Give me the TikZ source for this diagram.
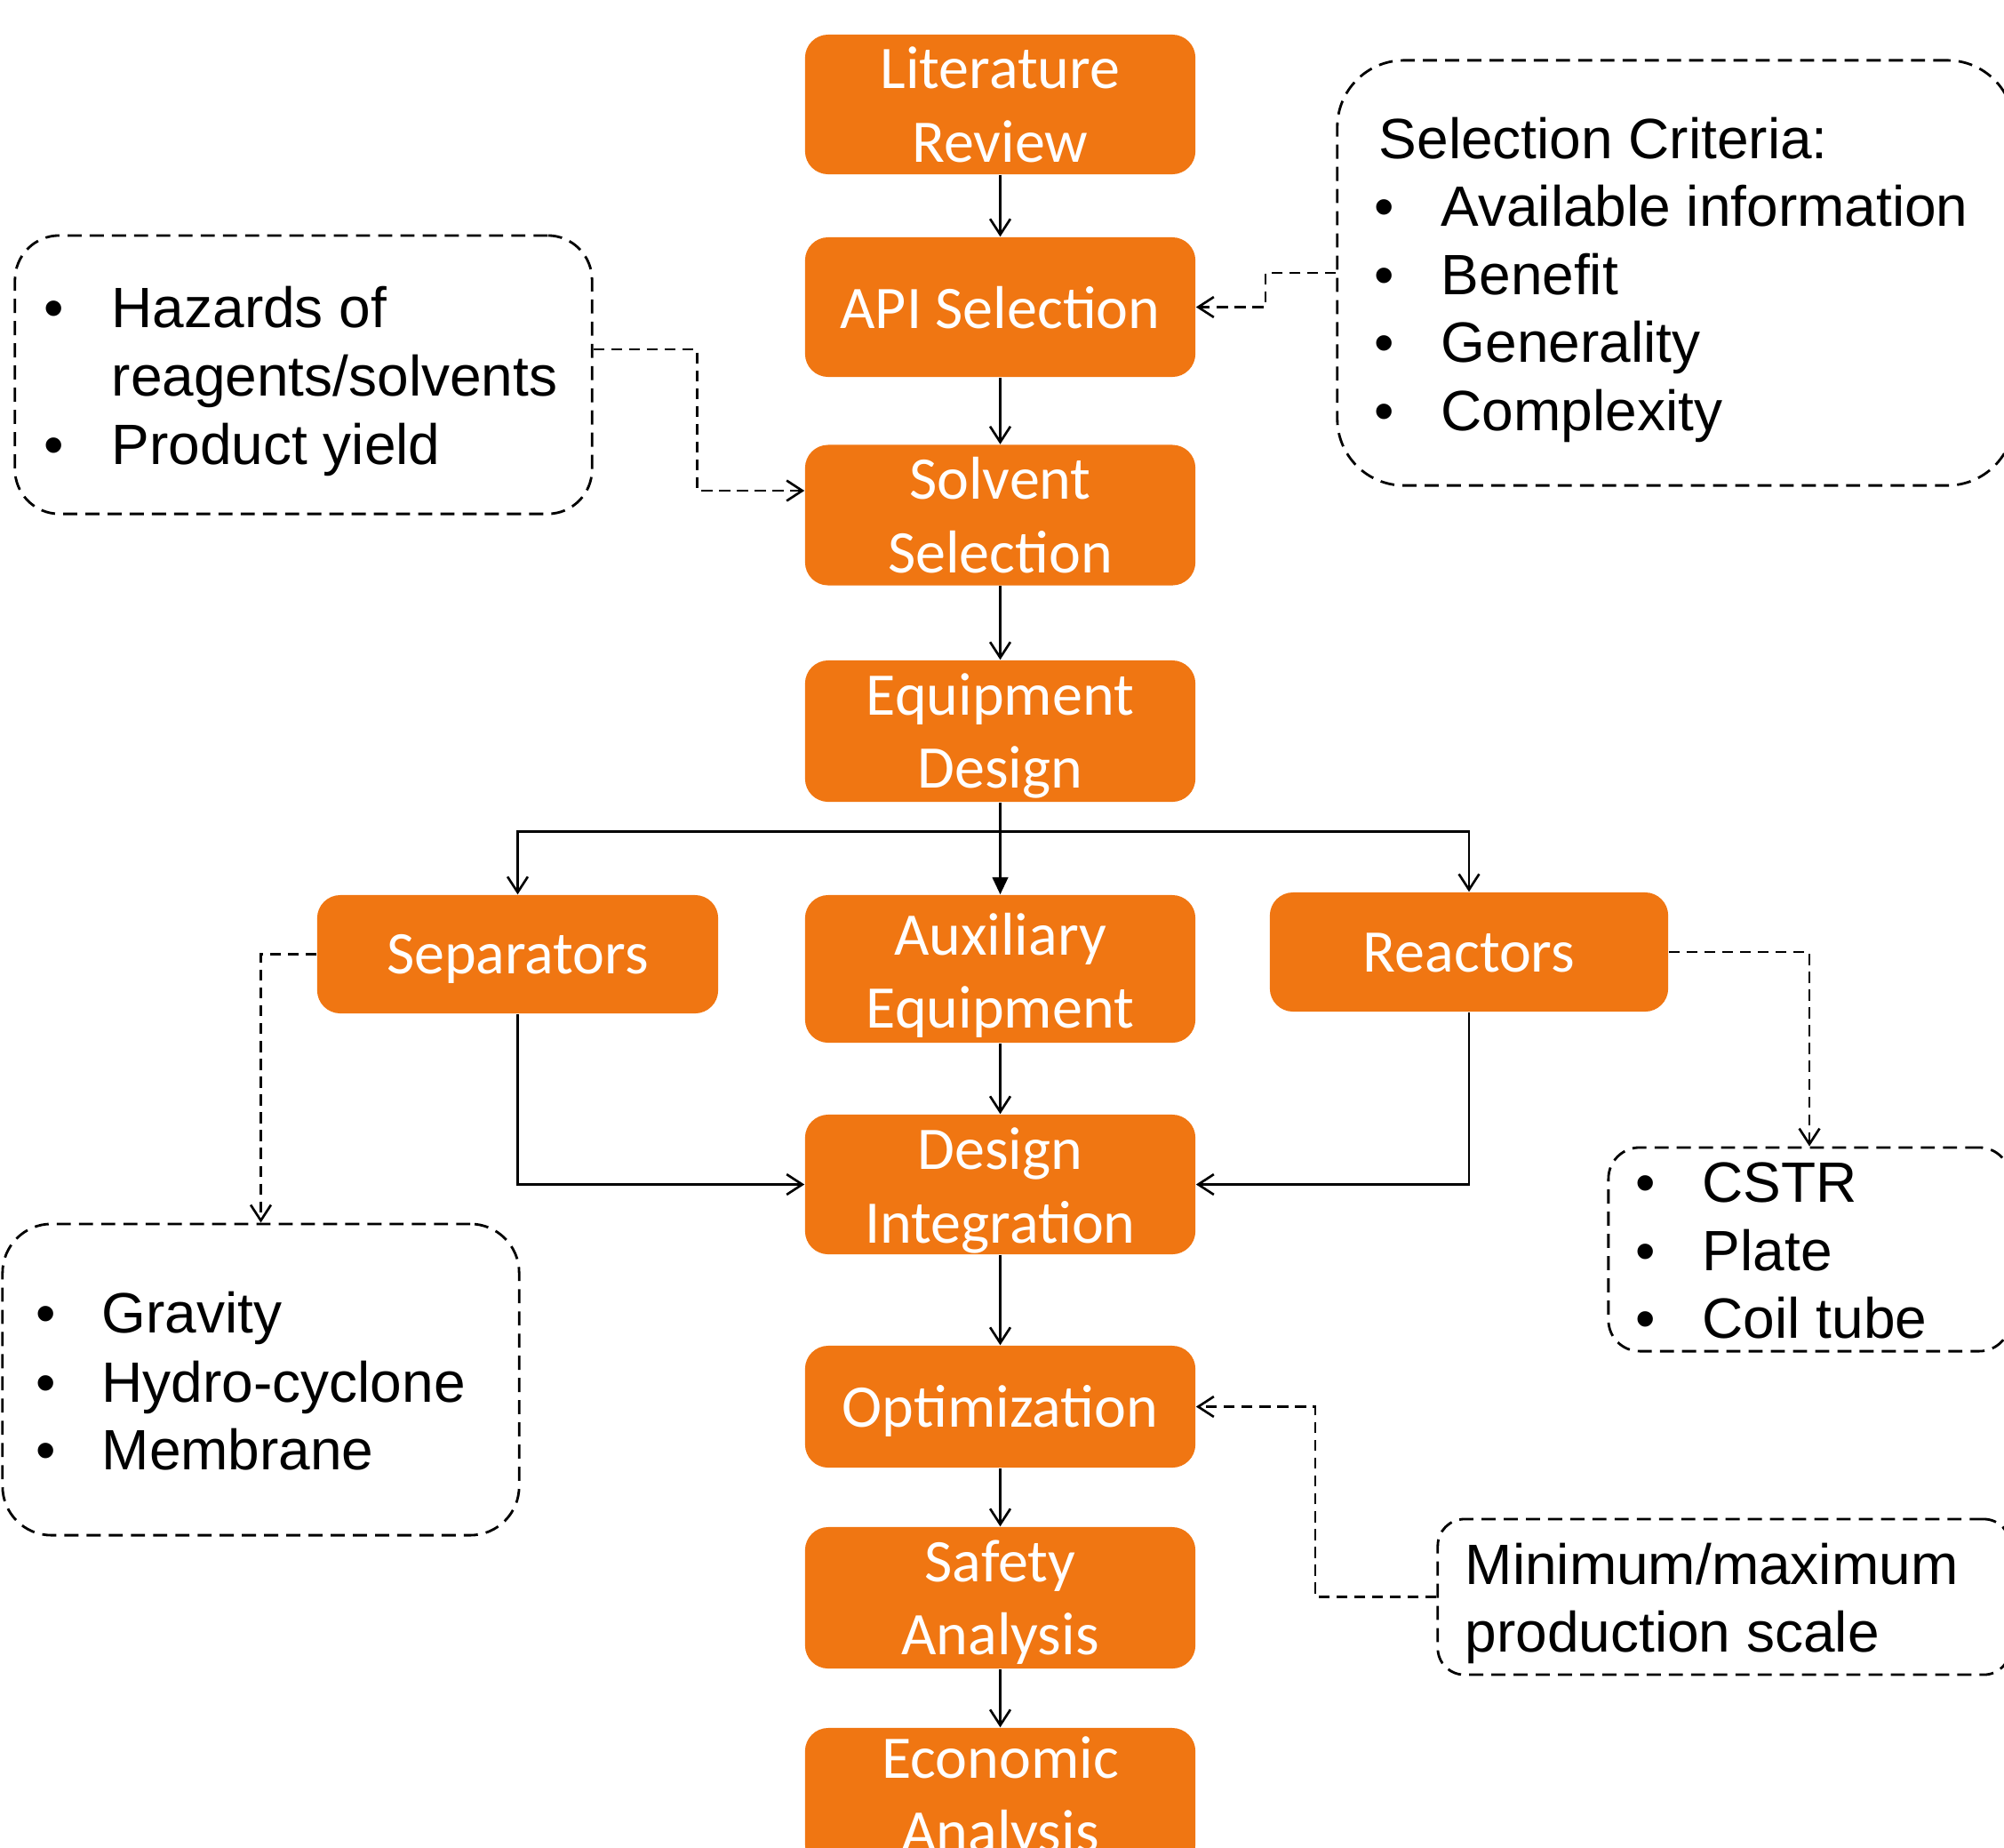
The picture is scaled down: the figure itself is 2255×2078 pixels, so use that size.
\documentclass[tikz,border=0pt]{standalone}
\usepackage{fontspec}
\setmainfont{Liberation Sans}
\newfontfamily\calfont{Carlito}
\usetikzlibrary{arrows.meta,calc}
\definecolor{orng}{RGB}{240,118,18}
\begin{document}
\begin{tikzpicture}[x=0.01cm,y=-0.01cm,
  obox/.style={fill=orng, draw=none, rounded corners=0.26cm, inner sep=0pt, minimum width=4.39cm},
  otxt/.style={text=white, font=\calfont\fontsize{19.35}{23.3}\selectfont, inner sep=0pt, anchor=base},
  dbox/.style={draw=black, line width=0.8pt, dash pattern=on 4.5pt off 2.6pt, inner sep=0pt},
  btxt/.style={font=\fontsize{18.2}{21.8}\selectfont, inner sep=0pt, anchor=base west},
  bul/.style={font=\fontsize{18.2}{21.8}\selectfont, inner sep=0pt, anchor=base},
  conn/.style={line width=0.75pt},
  arr/.style={conn, -{Straight Barb[length=5pt,width=6.5pt]}},
  darr/.style={arr, dash pattern=on 3.5pt off 2.2pt},
]
\useasboundingbox (0,0) rectangle (2255,2078);
\clip (0,0) rectangle (2255,2078);

% orange boxes
\node[obox, minimum height=1.57cm] (lit) at (1125.5,117.5) {};
\node[obox, minimum height=1.57cm] (api) at (1125.5,345.5) {};
\node[obox, minimum height=1.58cm] (solv) at (1125.5,579.5) {};
\node[obox, minimum height=1.59cm] (eq) at (1125.5,822.5) {};
\node[obox, minimum width=4.51cm, minimum height=1.33cm] (sep) at (582.5,1073.5) {};
\node[obox, minimum height=1.66cm] (aux) at (1125.5,1090) {};
\node[obox, minimum width=4.48cm, minimum height=1.34cm] (reac) at (1653,1071) {};
\node[obox, minimum height=1.57cm] (di) at (1125.5,1332.5) {};
\node[obox, minimum height=1.37cm] (opt) at (1125.5,1582.5) {};
\node[obox, minimum height=1.59cm] (safe) at (1125.5,1797.5) {};
\node[obox, minimum height=1.57cm] (econ) at (1125.5,2022.5) {};

% orange box texts
\node[otxt] (lit1) at (1125.5,99.5) {Literature};
\node[otxt] (lit2) at (1125.5,182) {Review};
\node[otxt] (api1) at (1125.5,369) {API Selection};
\node[otxt] (solv1) at (1125.5,561) {Solvent};
\node[otxt] (solv2) at (1125.5,644) {Selection};
\node[otxt] (eq1) at (1125.5,804) {Equipment};
\node[otxt] (eq2) at (1125.5,886) {Design};
\node[otxt] (sep1) at (582.5,1095) {Separators};
\node[otxt] (aux1) at (1125.5,1074) {Auxiliary};
\node[otxt] (aux2) at (1125.5,1156) {Equipment};
\node[otxt] (reac1) at (1653,1093) {Reactors};
\node[otxt] (di1) at (1125.5,1315) {Design};
\node[otxt] (di2) at (1125.5,1398) {Integration};
\node[otxt] (opt1) at (1125.5,1605) {Optimization};
\node[otxt] (safe1) at (1125.5,1779) {Safety};
\node[otxt] (safe2) at (1125.5,1861) {Analysis};
\node[otxt] (econ1) at (1125.5,2000) {Economic};
\node[otxt] (econ2) at (1125.5,2083) {Analysis};

% dashed note boxes
\node[dbox, rounded corners=0.75cm, minimum width=7.61cm, minimum height=4.78cm] (sel) at (1885.5,307) {};
\node[dbox, rounded corners=0.5cm, minimum width=6.49cm, minimum height=3.13cm] (haz) at (341.5,421.5) {};
\node[dbox, rounded corners=0.55cm, minimum width=5.81cm, minimum height=3.5cm] (grav) at (293.5,1552) {};
\node[dbox, rounded corners=0.35cm, minimum width=4.52cm, minimum height=2.29cm] (cstr) at (2036,1405.5) {};
\node[dbox, rounded corners=0.3cm, minimum width=6.44cm, minimum height=1.75cm] (mm) at (1940,1796.5) {};

% note texts
\node[btxt] (selh) at (1551,178) {Selection Criteria:};
\node[bul] (selb1) at (1558,254.5) {•};
\node[btxt] (selt1) at (1621,254.5) {Available information};
\node[bul] (selb2) at (1558,331) {•};
\node[btxt] (selt2) at (1621,331) {Benefit};
\node[bul] (selb3) at (1558,407.6) {•};
\node[btxt] (selt3) at (1621,407.6) {Generality};
\node[bul] (selb4) at (1558,484) {•};
\node[btxt] (selt4) at (1621,484) {Complexity};

\node[bul] (hazb1) at (61,368) {•};
\node[btxt] (hazt1) at (125,368) {Hazards of};
\node[btxt] (hazt1b) at (125,445) {reagents/solvents};
\node[bul] (hazb2) at (61,522) {•};
\node[btxt] (hazt2) at (125,522) {Product yield};

\node[bul] (gravb1) at (51.5,1499) {•};
\node[btxt] (gravt1) at (114,1499) {Gravity};
\node[bul] (gravb2) at (51.5,1577.5) {•};
\node[btxt] (gravt2) at (114,1577.5) {Hydro-cyclone};
\node[bul] (gravb3) at (51.5,1653) {•};
\node[btxt] (gravt3) at (114,1653) {Membrane};

\node[bul] (cstrb1) at (1852,1352) {•};
\node[btxt] (cstrt1) at (1915,1352) {CSTR};
\node[bul] (cstrb2) at (1852,1429) {•};
\node[btxt] (cstrt2) at (1915,1429) {Plate};
\node[bul] (cstrb3) at (1852,1505.5) {•};
\node[btxt] (cstrt3) at (1915,1505.5) {Coil tube};

\node[btxt] (mm1) at (1648,1782) {Minimum/maximum};
\node[btxt] (mm2) at (1648,1858) {production scale};

% solid connectors
\draw[arr] (lit.south) -- (api.north);
\draw[arr] (api.south) -- (solv.north);
\draw[arr] (solv.south) -- (eq.north);
\draw[conn] (eq.south) -- ++(0,32.5) coordinate (br);
\draw[arr] (br) -| (sep.north);
\draw[arr] (br) -| (reac.north);
\draw[conn, -{Triangle[length=5.5pt,width=5pt]}] (br) -- (aux.north);
\draw[arr] (aux.south) -- (di.north);
\draw[arr] (sep.south) |- (di.west);
\draw[arr] (reac.south) |- (di.east);
\draw[arr] (di.south) -- (opt.north);
\draw[arr] (opt.south) -- (safe.north);
\draw[arr] (safe.south) -- (econ.north);

% dashed connectors
\draw[darr] (sel.west) -- ++(-79.5,0) |- (api.east);
\draw[darr] ($(haz.east)+(0,-28.5)$) -| ($(solv.west)+(-121,-27.5)$) -- ($(solv.west)+(0,-27.5)$);
\draw[darr] (sep.west) -| (grav.north);
\draw[darr] (reac.east) -| (cstr.north);
\draw[darr] (mm.west) -- ++(-136.5,0) |- (opt.east);
\end{tikzpicture}
\end{document}
